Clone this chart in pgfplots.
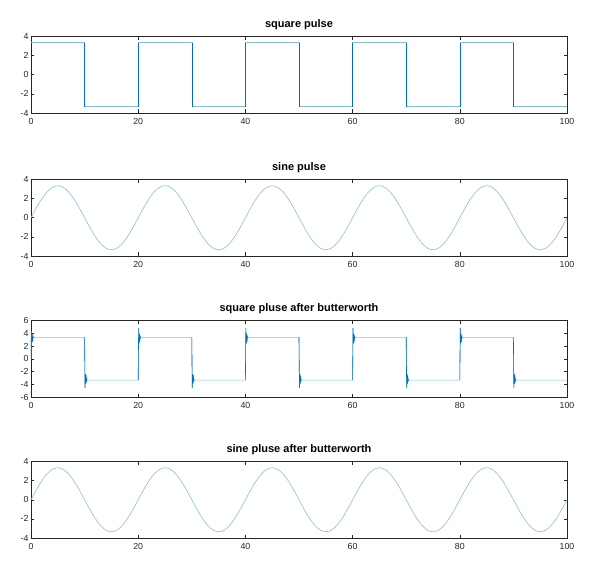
\documentclass[border=0pt]{standalone}
\usepackage{pgfplots}
\pgfplotsset{compat=1.18}
\usepackage{pgfplotstable}
\usepackage{fontspec}
\setmainfont{Liberation Sans}
\definecolor{lineblue}{RGB}{135,190,230}
\definecolor{darkblue}{RGB}{0,114,189}
\definecolor{axgray}{RGB}{38,38,38}
\pgfplotstableread{
x y
0 0
1 1.035
2 1.969
3 2.710
4 3.186
5 3.35
6 3.186
7 2.710
8 1.969
9 1.035
10 0
11 -1.035
12 -1.969
13 -2.710
14 -3.186
15 -3.35
16 -3.186
17 -2.710
18 -1.969
19 -1.035
20 0
21 1.035
22 1.969
23 2.710
24 3.186
25 3.35
26 3.186
27 2.710
28 1.969
29 1.035
30 0
31 -1.035
32 -1.969
33 -2.710
34 -3.186
35 -3.35
36 -3.186
37 -2.710
38 -1.969
39 -1.035
40 0
41 1.035
42 1.969
43 2.710
44 3.186
45 3.35
46 3.186
47 2.710
48 1.969
49 1.035
50 0
51 -1.035
52 -1.969
53 -2.710
54 -3.186
55 -3.35
56 -3.186
57 -2.710
58 -1.969
59 -1.035
60 0
61 1.035
62 1.969
63 2.710
64 3.186
65 3.35
66 3.186
67 2.710
68 1.969
69 1.035
70 0
71 -1.035
72 -1.969
73 -2.710
74 -3.186
75 -3.35
76 -3.186
77 -2.710
78 -1.969
79 -1.035
80 0
81 1.035
82 1.969
83 2.710
84 3.186
85 3.35
86 3.186
87 2.710
88 1.969
89 1.035
90 0
91 -1.035
92 -1.969
93 -2.710
94 -3.186
95 -3.35
96 -3.186
97 -2.710
98 -1.969
99 -1.035
100 0
}\sinetable
\pgfplotstableread{
x y
0 3.35
10 3.35
10 -3.35
20 -3.35
20 3.35
30 3.35
30 -3.35
40 -3.35
40 3.35
50 3.35
50 -3.35
60 -3.35
60 3.35
70 3.35
70 -3.35
80 -3.35
80 3.35
90 3.35
90 -3.35
100 -3.35
}\squaretable
\pgfplotstableread{
x y
10 3.35
10 -3.35
nan nan
20 -3.35
20 3.35
nan nan
30 3.35
30 -3.35
nan nan
40 -3.35
40 3.35
nan nan
50 3.35
50 -3.35
nan nan
60 -3.35
60 3.35
nan nan
70 3.35
70 -3.35
nan nan
80 -3.35
80 3.35
nan nan
90 3.35
90 -3.35
}\squareedges
\pgfplotstableread{
x y
0 0
0.08 4.3
0.16 2.6
0.24 3.9
0.32 3.0
0.40 3.5
0.50 3.25
0.65 3.35
10 3.35
10.08 -4.6
10.16 -2.4
10.24 -3.9
10.32 -3.0
10.40 -3.5
10.50 -3.25
10.65 -3.35
20 -3.35
20.08 4.8
20.16 2.4
20.24 3.9
20.32 3.0
20.40 3.5
20.50 3.25
20.65 3.35
30 3.35
30.08 -4.6
30.16 -2.4
30.24 -3.9
30.32 -3.0
30.40 -3.5
30.50 -3.25
30.65 -3.35
40 -3.35
40.08 4.8
40.16 2.4
40.24 3.9
40.32 3.0
40.40 3.5
40.50 3.25
40.65 3.35
50 3.35
50.08 -4.6
50.16 -2.4
50.24 -3.9
50.32 -3.0
50.40 -3.5
50.50 -3.25
50.65 -3.35
60 -3.35
60.08 4.8
60.16 2.4
60.24 3.9
60.32 3.0
60.40 3.5
60.50 3.25
60.65 3.35
70 3.35
70.08 -4.6
70.16 -2.4
70.24 -3.9
70.32 -3.0
70.40 -3.5
70.50 -3.25
70.65 -3.35
80 -3.35
80.08 4.8
80.16 2.4
80.24 3.9
80.32 3.0
80.40 3.5
80.50 3.25
80.65 3.35
90 3.35
90.08 -4.6
90.16 -2.4
90.24 -3.9
90.32 -3.0
90.40 -3.5
90.50 -3.25
90.65 -3.35
100 -3.35
}\buttertable
\pgfplotstableread{
x y
0 0
0.08 4.3
0.16 2.6
0.24 3.9
0.32 3.0
0.40 3.5
nan nan
10 3.35
10.08 -4.6
10.16 -2.4
10.24 -3.9
10.32 -3.0
10.40 -3.5
nan nan
20 -3.35
20.08 4.8
20.16 2.4
20.24 3.9
20.32 3.0
20.40 3.5
nan nan
30 3.35
30.08 -4.6
30.16 -2.4
30.24 -3.9
30.32 -3.0
30.40 -3.5
nan nan
40 -3.35
40.08 4.8
40.16 2.4
40.24 3.9
40.32 3.0
40.40 3.5
nan nan
50 3.35
50.08 -4.6
50.16 -2.4
50.24 -3.9
50.32 -3.0
50.40 -3.5
nan nan
60 -3.35
60.08 4.8
60.16 2.4
60.24 3.9
60.32 3.0
60.40 3.5
nan nan
70 3.35
70.08 -4.6
70.16 -2.4
70.24 -3.9
70.32 -3.0
70.40 -3.5
nan nan
80 -3.35
80.08 4.8
80.16 2.4
80.24 3.9
80.32 3.0
80.40 3.5
nan nan
90 3.35
90.08 -4.6
90.16 -2.4
90.24 -3.9
90.32 -3.0
90.40 -3.5
}\butteredges
\begin{document}
\begin{tikzpicture}
\pgfplotsset{
  myax/.style={
    scale only axis, width=536pt, height=76.5pt,
    xmin=0, xmax=100, ymin=-4, ymax=4,
    xtick={0,20,...,100}, ytick={-4,-2,0,2,4},
    tick align=inside, major tick length=3.5pt,
    axis line style={axgray, line width=0.6pt},
    every tick/.style={axgray, line width=0.5pt},
    tick label style={font=\fontsize{8.8}{10}\selectfont, text=axgray},
    /pgf/number format/assume math mode=true,
    title style={font=\bfseries\fontsize{11}{12}\selectfont, text=black, yshift=-2.5pt},
    xticklabel style={yshift=-1.5pt},
    yticklabel style={xshift=1pt},
    unbounded coords=jump,
    anchor=south west,
  },
}
\path (0pt,0pt) rectangle (602pt,571pt);
\begin{axis}[myax, at={(31pt,458pt)}, title={square pulse}]
\addplot[lineblue, line width=0.6pt] table {\squaretable};
\addplot[darkblue, line width=0.6pt] table {\squareedges};
\end{axis}
\begin{axis}[myax, at={(31pt,315pt)}, title={sine pulse}]
\addplot[lineblue, line width=0.6pt, smooth] table {\sinetable};
\end{axis}
\begin{axis}[myax, at={(31pt,174pt)}, title={square pluse after butterworth}, ymin=-6, ymax=6, ytick={-6,-4,...,6}]
\addplot[lineblue, line width=0.6pt] table {\buttertable};
\addplot[darkblue, line width=0.6pt] table {\butteredges};
\end{axis}
\begin{axis}[myax, at={(31pt,33pt)}, title={sine pluse after butterworth}]
\addplot[lineblue, line width=0.6pt, smooth] table {\sinetable};
\end{axis}
\end{tikzpicture}
\end{document}
